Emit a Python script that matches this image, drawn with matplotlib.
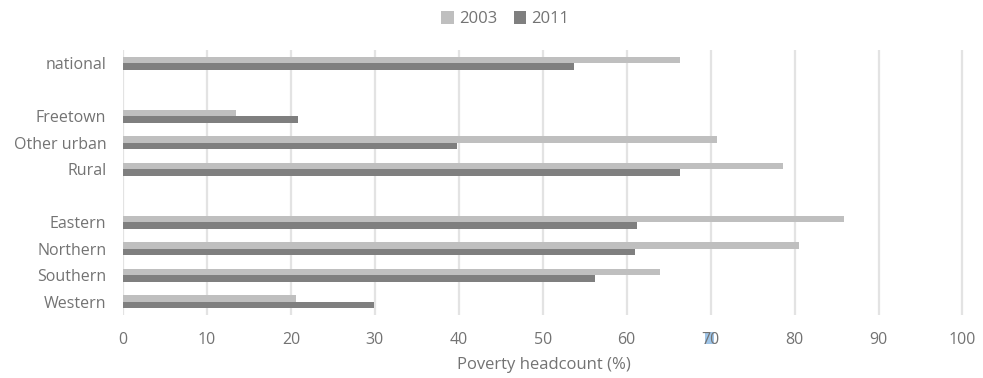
import matplotlib
matplotlib.use("Agg")
import matplotlib.pyplot as plt
import matplotlib.transforms as mtransforms
from matplotlib.patches import Rectangle
import numpy as np

# Poverty headcount by area, Sierra Leone (%)
categories = ["national", "", "Freetown", "Other urban", "Rural", "",
              "Eastern", "Northern", "Southern", "Western"]
pov_2003 = [66.4, None, 13.5, 70.8, 78.6, None, 85.9, 80.5, 64.0, 20.6]
pov_2011 = [53.7, None, 20.8, 39.8, 66.3, None, 61.2, 61.0, 56.2, 29.9]
years = ["2003", "2011"]
x_ticks = [0, 10, 20, 30, 40, 50, 60, 70, 80, 90, 100]

plt.rcParams["font.family"] = ["Open Sans", "DejaVu Sans"]
text_color = "#737373"
c2003 = "#bfbfbf"
c2011 = "#7f7f7f"

fig = plt.figure(figsize=(9.83, 3.78), dpi=100)
ax = fig.add_axes([0.1251, 0.1667, 0.8566, 0.701])

n = len(categories)
pos = np.arange(n)
h = 0.25
v03 = np.array([np.nan if v is None else v for v in pov_2003])
v11 = np.array([np.nan if v is None else v for v in pov_2011])
ax.barh(pos - h / 2, np.nan_to_num(v03), height=h, color=c2003, label=years[0], zorder=3)
ax.barh(pos + h / 2, np.nan_to_num(v11), height=h, color=c2011, label=years[1], zorder=3)

ax.set_ylim(n - 0.5, -0.5)
ax.set_xlim(0, 100.3)
ax.set_xticks(x_ticks)
ax.set_yticks(pos)
ax.set_yticklabels(categories)
ax.tick_params(axis="both", length=0, labelsize=11.5, colors=text_color)
ax.tick_params(axis="y", pad=12)
ax.tick_params(axis="x", pad=12)
ax.grid(axis="x", color="#e3e3e3", linewidth=1.6, zorder=0)
for s in ax.spines.values():
    s.set_visible(False)

# text-selection highlight behind the "7" of the 70 tick label
trans = mtransforms.blended_transform_factory(ax.transData, fig.transFigure)
ax.add_patch(Rectangle((69.3, 1 - 344 / 378), 1.1, 12 / 378, transform=trans,
                       facecolor="#9fc5e8", edgecolor="none", clip_on=False, zorder=0.5))

ax.set_xlabel("Poverty headcount (%)", fontsize=12, color=text_color, labelpad=6.5)

fig.legend(loc="upper center", bbox_to_anchor=(0.514, 1.01), ncol=2, frameon=False,
           fontsize=12, handlelength=0.75, handleheight=0.75, columnspacing=1.0,
           handletextpad=0.3, labelcolor=text_color)

fig.savefig("out.png", dpi=100)
